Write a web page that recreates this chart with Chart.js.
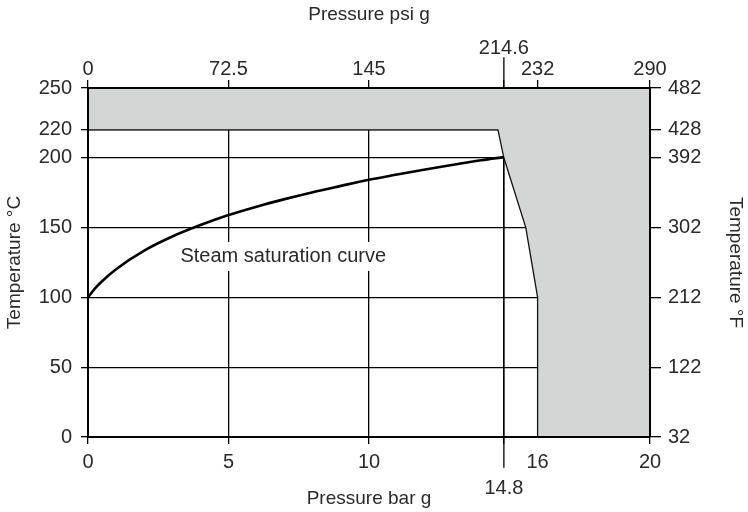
<!DOCTYPE html>
<html>
<head>
<meta charset="utf-8">
<script src="https://cdn.jsdelivr.net/npm/chart.js@4.4.1/dist/chart.umd.min.js"></script>
<style>
  body { margin: 0; background: #fff; }
  #wrap { width: 748px; height: 512px; }
</style>
</head>
<body>
<div id="wrap"><canvas id="chart"></canvas></div>
<script>
// Axes ticks (bar g / °C) and their labels on the other units
const X_TICKS = [0, 5, 10, 14.8, 16, 20];
const X_LABELS = ["0", "5", "10", ["", "14.8"], "16", "20"];
const PSI_LABELS = ["0", "72.5", "145", ["214.6", ""], "232", "290"];
const Y_TICKS = [0, 50, 100, 150, 200, 220, 250];
const C_LABELS = ["0", "50", "100", "150", "200", "220", "250"];
const F_LABELS = ["32", "122", "212", "302", "392", "428", "482"];

// Steam saturation curve (bar g -> °C)
const CURVE_BAR = [0, 0.25, 0.5, 1, 2, 3, 4, 5, 6, 7, 8, 9, 10, 11, 12, 13, 14, 14.8];
const CURVE_C = [100, 106.5, 111.6, 120.2, 133.5, 143.6, 151.8, 159, 165, 170.4, 175.4, 179.9, 184.3, 188, 191.6, 195, 198.3, 200.5];

// Limit of the grey (not allowed) zone
const LIMIT_BAR = [0, 14.59, 14.8, 15.58, 16, 16, 20];
const LIMIT_C = [220, 220, 200, 150, 100, 0, 0];

// Vertical marker at 14.8 bar g (extends past both axes)
const MARK_BAR = [14.8, 14.8];
const MARK_C = [-22, 272];

const CURVE_TEXT = "Steam saturation curve";
const CURVE_TEXT_AT = { x: 6.95, y: 129 };

const FONT = "'Liberation Sans', Arial, sans-serif";
const TEXT_COLOR = "#2a2a2a";

const toPoints = (xs, ys) => xs.map((x, i) => ({ x: x, y: ys[i] }));
const fixTicks = (values) => (scale) => { scale.ticks = values.map(v => ({ value: v })); };

// Texte de la courbe sur fond blanc (coupe les lignes de grille)
const curveLabelPlugin = {
  id: "curveLabel",
  afterDatasetsDraw(chart) {
    const { ctx, scales } = chart;
    const px = scales.x.getPixelForValue(CURVE_TEXT_AT.x);
    const py = scales.y.getPixelForValue(CURVE_TEXT_AT.y);
    ctx.save();
    ctx.font = "20px " + FONT;
    const w = ctx.measureText(CURVE_TEXT).width;
    ctx.fillStyle = "#fff";
    ctx.fillRect(px - w / 2 - 3, py - 15, w + 6, 29);
    ctx.fillStyle = TEXT_COLOR;
    ctx.textAlign = "center";
    ctx.textBaseline = "middle";
    ctx.fillText(CURVE_TEXT, px, py);
    ctx.restore();
  }
};

const titleFont = { family: FONT, size: 19 };

new Chart(document.getElementById("chart"), {
  type: "line",
  data: {
    datasets: [
      {
        label: "marker",
        data: toPoints(MARK_BAR, MARK_C),
        borderColor: "#000",
        borderWidth: 1.3,
        pointRadius: 0,
        clip: false,
        order: 3
      },
      {
        label: "limit",
        data: toPoints(LIMIT_BAR, LIMIT_C),
        borderColor: "#111",
        borderWidth: 1.3,
        backgroundColor: "#d4d5d5",
        fill: "end",
        pointRadius: 0,
        tension: 0,
        order: 2
      },
      {
        label: "saturation",
        data: toPoints(CURVE_BAR, CURVE_C),
        borderColor: "#000",
        borderWidth: 2.6,
        pointRadius: 0,
        cubicInterpolationMode: "monotone",
        order: 1
      }
    ]
  },
  options: {
    responsive: true,
    maintainAspectRatio: false,
    animation: false,
    layout: { padding: 0 },
    plugins: { legend: { display: false }, tooltip: { enabled: false } },
    scales: {
      x: {
        type: "linear",
        position: "bottom",
        min: 0, max: 20,
        afterBuildTicks: fixTicks(X_TICKS),
        afterFit: (s) => { s.height = 75; },
        ticks: {
          autoSkip: false, maxRotation: 0, padding: 5,
          font: { family: FONT, size: 20, lineHeight: 1.3 }, color: TEXT_COLOR,
          callback: (v, i) => X_LABELS[i]
        },
        grid: {
          color: "#000", lineWidth: 1.3, tickLength: 7,
          tickColor: (c) => (c.tick && c.tick.value === 16 ? "rgba(0,0,0,0)" : "#000")
        },
        border: { color: "#000", width: 2, z: 1 },
        title: { display: true, text: "Pressure bar g", font: titleFont, color: TEXT_COLOR, padding: { top: 4, bottom: 2 } }
      },
      x2: {
        type: "linear",
        position: "top",
        min: 0, max: 20,
        afterBuildTicks: fixTicks(X_TICKS),
        afterFit: (s) => { s.height = 88; },
        ticks: {
          autoSkip: false, maxRotation: 0, padding: 0,
          font: { family: FONT, size: 20, lineHeight: 1.05 }, color: TEXT_COLOR,
          callback: (v, i) => PSI_LABELS[i]
        },
        grid: { drawOnChartArea: false, color: "#000", lineWidth: 1.3, tickLength: 8 },
        border: { color: "#000", width: 2, z: 1 },
        title: { display: true, text: "Pressure psi g", font: titleFont, color: TEXT_COLOR, padding: { top: 3, bottom: 4 } }
      },
      y: {
        type: "linear",
        position: "left",
        min: 0, max: 250,
        afterBuildTicks: fixTicks(Y_TICKS),
        afterFit: (s) => { s.width = 88; },
        ticks: {
          autoSkip: false, padding: 9,
          font: { family: FONT, size: 20 }, color: TEXT_COLOR,
          callback: (v, i) => C_LABELS[i]
        },
        grid: { color: "#000", lineWidth: 1.3, tickLength: 7 },
        border: { color: "#000", width: 2, z: 1 },
        title: { display: true, text: "Temperature °C", font: titleFont, color: TEXT_COLOR, padding: { top: 3, bottom: 4 } }
      },
      y2: {
        type: "linear",
        position: "right",
        min: 0, max: 250,
        afterBuildTicks: fixTicks(Y_TICKS),
        afterFit: (s) => { s.width = 98; },
        ticks: {
          autoSkip: false, padding: 7,
          font: { family: FONT, size: 20 }, color: TEXT_COLOR,
          callback: (v, i) => F_LABELS[i]
        },
        grid: { drawOnChartArea: false, color: "#000", lineWidth: 1.3, tickLength: 11 },
        border: { color: "#000", width: 2, z: 1 },
        title: { display: true, text: "Temperature °F", font: titleFont, color: TEXT_COLOR, padding: { top: 1, bottom: 4 } }
      }
    }
  },
  plugins: [curveLabelPlugin]
});
</script>
</body>
</html>
